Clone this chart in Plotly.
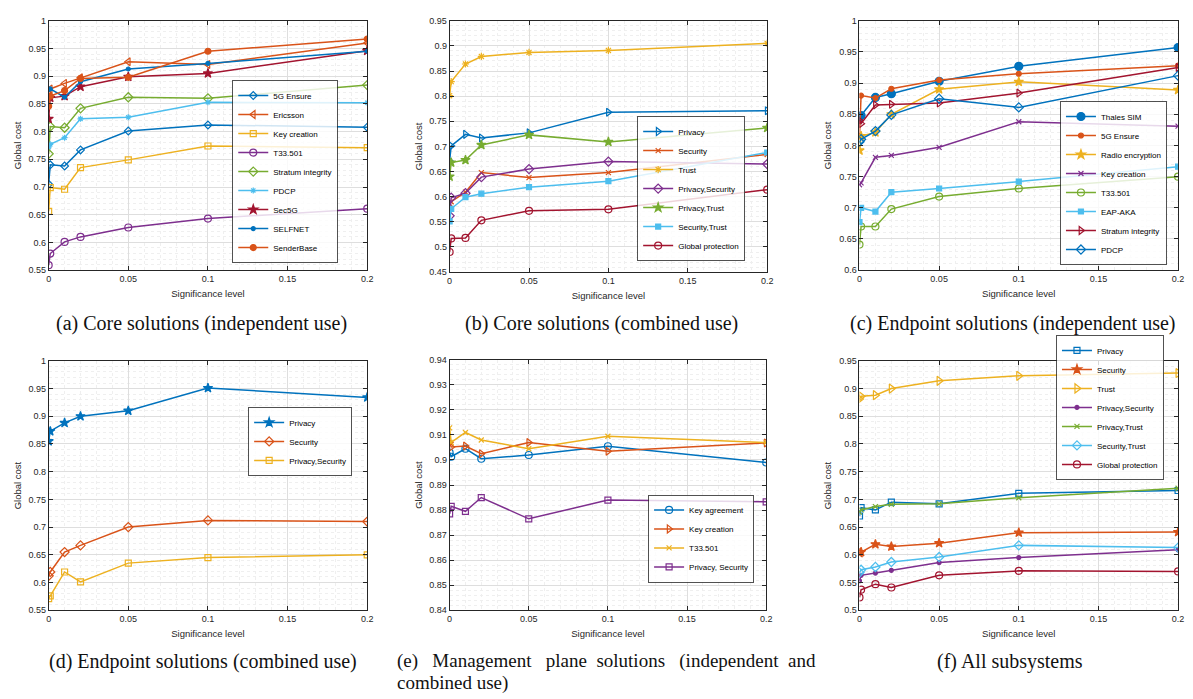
import plotly.graph_objects as go

# ---------------- data ----------------
X = [0, 0.001, 0.01, 0.02, 0.05, 0.1, 0.2]
X_TICKS = [0, 0.05, 0.1, 0.15, 0.2]

A_NAMES = ["5G Ensure", "Ericsson", "Key creation", "T33.501", "Stratum integrity",
           "PDCP", "Sec5G", "SELFNET", "SenderBase"]
A_VALUES = [
    [0.705, 0.740, 0.738, 0.767, 0.801, 0.812, 0.808],
    [0.872, 0.877, 0.887, 0.897, 0.926, 0.921, 0.960],
    [0.656, 0.699, 0.696, 0.735, 0.749, 0.774, 0.771],
    [0.559, 0.580, 0.601, 0.610, 0.627, 0.643, 0.661],
    [0.760, 0.809, 0.807, 0.842, 0.862, 0.860, 0.884],
    [0.772, 0.777, 0.789, 0.823, 0.826, 0.853, 0.852],
    [0.823, 0.861, 0.864, 0.881, 0.899, 0.905, 0.946],
    [0.876, 0.877, 0.862, 0.890, 0.913, 0.923, 0.945],
    [0.846, 0.864, 0.874, 0.896, 0.898, 0.945, 0.967],
]

B_NAMES = ["Privacy", "Security", "Trust", "Privacy,Security", "Privacy,Trust",
           "Security,Trust", "Global protection"]
B_VALUES = [
    [0.671, 0.701, 0.724, 0.717, 0.727, 0.768, 0.771],
    [0.586, 0.590, 0.609, 0.648, 0.638, 0.648, 0.684],
    [0.801, 0.829, 0.864, 0.879, 0.887, 0.891, 0.905],
    [0.562, 0.598, 0.607, 0.639, 0.655, 0.670, 0.665],
    [0.640, 0.668, 0.673, 0.703, 0.723, 0.709, 0.737],
    [0.551, 0.576, 0.599, 0.606, 0.619, 0.631, 0.688],
    [0.490, 0.517, 0.518, 0.553, 0.572, 0.575, 0.614],
]

C_NAMES = ["Thales SIM", "5G Ensure", "Radio encryption", "Key creation", "T33.501",
           "EAP-AKA", "Stratum integrity", "PDCP"]
C_VALUES = [
    [0.846, 0.848, 0.877, 0.883, 0.903, 0.927, 0.957],
    [0.815, 0.880, 0.876, 0.891, 0.905, 0.915, 0.928],
    [0.792, 0.815, 0.821, 0.850, 0.890, 0.902, 0.889],
    [0.737, 0.740, 0.781, 0.784, 0.797, 0.838, 0.831],
    [0.641, 0.670, 0.670, 0.698, 0.718, 0.731, 0.750],
    [0.677, 0.700, 0.694, 0.725, 0.731, 0.742, 0.766],
    [0.840, 0.835, 0.865, 0.866, 0.868, 0.884, 0.925],
    [0.806, 0.810, 0.823, 0.849, 0.875, 0.861, 0.912],
]

D_NAMES = ["Privacy", "Security", "Privacy,Security"]
D_VALUES = [
    [0.855, 0.873, 0.888, 0.900, 0.910, 0.951, 0.934],
    [0.612, 0.619, 0.655, 0.667, 0.700, 0.712, 0.710],
    [0.571, 0.576, 0.619, 0.601, 0.635, 0.645, 0.650],
]

E_NAMES = ["Key agreement", "Key creation", "T33.501", "Privacy, Security"]
E_VALUES = [
    [0.9030, 0.9013, 0.9045, 0.9005, 0.9020, 0.9055, 0.8990],
    [0.9070, 0.9052, 0.9056, 0.9025, 0.9070, 0.9035, 0.9068],
    [0.9128, 0.9070, 0.9110, 0.9080, 0.9045, 0.9095, 0.9070],
    [0.8785, 0.8815, 0.8795, 0.8850, 0.8765, 0.8840, 0.8833],
]

F_NAMES = ["Privacy", "Security", "Trust", "Privacy,Security", "Privacy,Trust",
           "Security,Trust", "Global protection"]
F_VALUES = [
    [0.670, 0.685, 0.681, 0.695, 0.692, 0.711, 0.716],
    [0.603, 0.605, 0.619, 0.615, 0.621, 0.640, 0.641],
    [0.881, 0.886, 0.888, 0.900, 0.914, 0.923, 0.928],
    [0.553, 0.563, 0.567, 0.572, 0.586, 0.595, 0.609],
    [0.677, 0.681, 0.687, 0.691, 0.692, 0.703, 0.720],
    [0.568, 0.573, 0.578, 0.587, 0.596, 0.617, 0.613],
    [0.523, 0.537, 0.547, 0.541, 0.563, 0.571, 0.570],
]

CAPTIONS = ["(a) Core solutions (independent use)",
            "(b) Core solutions (combined use)",
            "(c) Endpoint solutions (independent use)",
            "(d) Endpoint solutions (combined use)",
            "(e) Management plane solutions (independent and",
            "(f) All subsystems"]
CAPTION_E2 = "combined use)"

# ---------------- style ----------------
W, H = 1193, 699
BLUE, ORANGE, YELLOW, PURPLE = "#0072BD", "#D95319", "#EDB120", "#7E2F8E"
GREEN, LBLUE, DRED = "#77AC30", "#4DBEEE", "#A2142F"

PANELS = [
    dict(names=A_NAMES, values=A_VALUES, yr=[0.55, 1.0], dt=0.05,
         colors=[BLUE, ORANGE, YELLOW, PURPLE, GREEN, LBLUE, DRED, BLUE, ORANGE],
         symbols=["diamond-open", "triangle-left-open", "square-open", "circle-open",
                  "diamond-open", "asterisk-open", "star", "circle", "circle"],
         sizes=[6, 7, 6, 7, 7, 5, 7, 4, 6],
         box=(46, 367, 16, 269), leg=(337, 262)),
    dict(names=B_NAMES, values=B_VALUES, yr=[0.45, 0.95], dt=0.05,
         colors=[BLUE, ORANGE, YELLOW, PURPLE, GREEN, LBLUE, DRED],
         symbols=["triangle-right-open", "x-thin-open", "asterisk-open", "diamond-open",
                  "star", "square", "circle-open"],
         sizes=[7, 5, 6, 7, 7, 5, 7],
         box=(450, 770, 16, 271), leg=(748, 260)),
    dict(names=C_NAMES, values=C_VALUES, yr=[0.6, 1.0], dt=0.05,
         colors=[BLUE, ORANGE, YELLOW, PURPLE, GREEN, LBLUE, DRED, BLUE],
         symbols=["circle", "circle", "star", "x-thin-open", "circle-open",
                  "square", "triangle-right-open", "diamond-open"],
         sizes=[8, 5, 7, 5, 7, 5, 7, 7],
         box=(863, 1184, 16, 269), leg=(1173, 264)),
    dict(names=D_NAMES, values=D_VALUES, yr=[0.55, 1.0], dt=0.05,
         colors=[BLUE, ORANGE, YELLOW],
         symbols=["star", "diamond-open", "square-open"],
         sizes=[7, 7, 6],
         box=(46, 367, 361, 614), leg=(352, 478)),
    dict(names=E_NAMES, values=E_VALUES, yr=[0.84, 0.94], dt=0.01,
         colors=[BLUE, ORANGE, YELLOW, PURPLE],
         symbols=["circle-open", "triangle-right-open", "x-thin-open", "square-open"],
         sizes=[7, 7, 5, 6],
         box=(450, 769, 360, 614), leg=(757, 586)),
    dict(names=F_NAMES, values=F_VALUES, yr=[0.5, 0.95], dt=0.05,
         colors=[BLUE, ORANGE, YELLOW, PURPLE, GREEN, LBLUE, DRED],
         symbols=["square-open", "star", "triangle-right-open", "circle",
                  "x-thin-open", "diamond-open", "circle-open"],
         sizes=[6, 7, 8, 4, 5, 7, 7],
         box=(863, 1184, 361, 614), leg=(1170, 482)),
]

AX_COLOR = "#262626"
TICK_FONT = dict(family="Liberation Sans, Arial, sans-serif", size=9, color=AX_COLOR)
LEG_FONT = dict(family="Liberation Sans, Arial, sans-serif", size=8, color="#000000")
CAP_FONT = dict(family="Liberation Serif, Times New Roman, serif", size=20, color="#111111")

fig = go.Figure()
layout = dict(width=W, height=H, margin=dict(l=0, r=0, t=0, b=0),
              paper_bgcolor="white", plot_bgcolor="white", showlegend=True,
              annotations=[])

for i, p in enumerate(PANELS):
    k = "" if i == 0 else str(i + 1)
    legname = "legend" + k
    x0, x1, y0, y1 = p["box"]
    for name, vals, col, sym, sz in zip(p["names"], p["values"], p["colors"],
                                        p["symbols"], p["sizes"]):
        fig.add_trace(go.Scatter(
            x=X, y=vals, name=name, mode="lines+markers",
            xaxis="x" + k, yaxis="y" + k, legend=legname,
            line=dict(color=col, width=1.5),
            marker=dict(symbol=sym, size=sz, color=col,
                        line=dict(color=col, width=1.2)),
        ))
    common = dict(showline=True, linecolor=AX_COLOR, linewidth=0.8, mirror="allticks",
                  ticks="inside", ticklen=4, tickcolor=AX_COLOR, tickfont=TICK_FONT,
                  showgrid=True, gridcolor="#dedede", gridwidth=0.7, zeroline=False)
    layout["xaxis" + k] = dict(
        common, domain=[x0 / W, x1 / W], anchor="y" + k, range=[0, 0.2],
        tickvals=X_TICKS, ticktext=["0", "0.05", "0.1", "0.15", "0.2"],
        minor=dict(dtick=0.01, showgrid=True, gridcolor="#efefef", griddash="dot",
                   ticks=""),
        title=dict(text="Significance level", font=dict(TICK_FONT, size=9.5), standoff=7))
    n = round((p["yr"][1] - p["yr"][0]) / p["dt"])
    yt = [round(p["yr"][0] + j * p["dt"], 4) for j in range(n + 1)]
    layout["yaxis" + k] = dict(
        common, domain=[1 - y1 / H, 1 - y0 / H], anchor="x" + k, range=p["yr"],
        tickvals=yt, ticktext=[("%g" % v) for v in yt],
        minor=dict(dtick=p["dt"] / 5, showgrid=True, gridcolor="#efefef", griddash="dot",
                   ticks=""),
        title=dict(text="Global cost", font=dict(TICK_FONT, size=9.5), standoff=5))
    lx, ly = p["leg"]
    layout[legname] = dict(x=lx / W, y=1 - ly / H, xanchor="right", yanchor="bottom",
                           xref="paper", yref="paper",
                           bgcolor="rgba(255,255,255,0.82)", bordercolor=AX_COLOR,
                           borderwidth=0.8, font=LEG_FONT, itemwidth=30, tracegroupgap=0,
                           itemclick=False, itemdoubleclick=False)

# captions
cap_pos = [(200, 323), (603, 323), (1018, 323), (202, 666), None, (1015, 666)]
for i, pos in enumerate(cap_pos):
    if pos is None:
        continue
    layout["annotations"].append(dict(
        text=CAPTIONS[i], x=pos[0] / W, y=1 - pos[1] / H, xref="paper", yref="paper",
        xanchor="center", yanchor="middle", showarrow=False, font=CAP_FONT))

# caption (e): first line spread out (justified look), second line below
NB = "\u00a0"
gaps = [NB * 2 + " ", NB * 2 + " ", NB + " ", NB * 2 + " ", NB + " "]
e_words = CAPTIONS[4].split(" ")
e_line1 = e_words[0]
for g, wd in zip(gaps, e_words[1:]):
    e_line1 += g + wd
E_FONT = dict(CAP_FONT, size=19)
layout["annotations"].append(dict(
    text=e_line1, x=395 / W, y=1 - 666 / H, xref="paper", yref="paper",
    xanchor="left", yanchor="middle", showarrow=False, font=E_FONT))
layout["annotations"].append(dict(
    text=CAPTION_E2, x=395 / W, y=1 - 688 / H, xref="paper", yref="paper",
    xanchor="left", yanchor="middle", showarrow=False, font=E_FONT))

fig.update_layout(**layout)
fig.write_html("out.html", config={"displayModeBar": False},
               post_script="document.body.style.margin='0px';document.body.style.overflow='hidden';")
